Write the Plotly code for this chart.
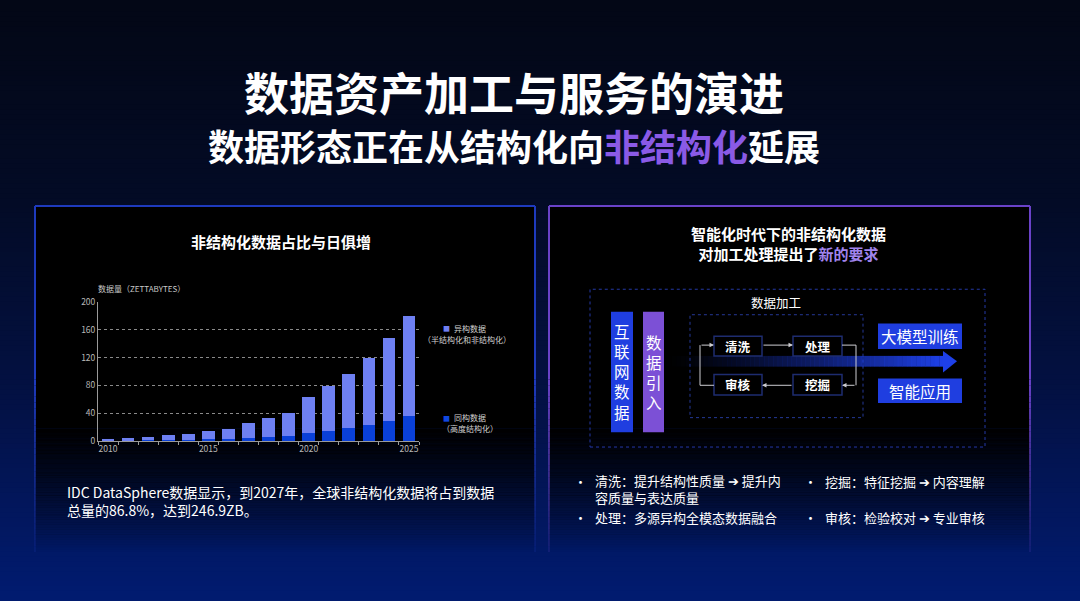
import plotly.graph_objects as go

W, H = 1080, 601

# ---------------- data ----------------
years = list(range(2010, 2026))
structured = [0.5, 0.8, 1.2, 1.6, 2, 2.5, 3.5, 4.5, 6, 7.5, 12, 15, 18.5, 23, 29, 36]
unstructured = [1.5, 3.2, 4.8, 7.4, 9, 12, 14.5, 21.5, 27.5, 32.5, 51.5, 64, 78.5, 97, 119, 144]
y_ticks = [0, 40, 80, 120, 160, 200]
x_ticks = [2010, 2015, 2020, 2025]

FONT = "Noto Sans CJK SC, Noto Sans, sans-serif"


def px(x):
    return x / W


def py(y):
    return 1 - y / H


def rgb(c, a=None):
    if a is None:
        return f"rgb({c[0]:.0f},{c[1]:.0f},{c[2]:.0f})"
    return f"rgba({c[0]:.0f},{c[1]:.0f},{c[2]:.0f},{a:.3f})"


def lerp_stops(stops, y):
    if y <= stops[0][0]:
        return stops[0][1]
    for (y0, c0), (y1, c1) in zip(stops, stops[1:]):
        if y0 <= y <= y1:
            t = (y - y0) / (y1 - y0)
            return tuple(c0[i] + (c1[i] - c0[i]) * t for i in range(3))
    return stops[-1][1]


shapes = []


def rect(x0, y0, x1, y1, fill=None, line=None, lw=0, dash=None, layer="below"):
    d = dict(type="rect", xref="paper", yref="paper",
             x0=px(x0), x1=px(x1), y0=py(y1), y1=py(y0), layer=layer,
             line=dict(width=lw, color=line or "rgba(0,0,0,0)"))
    if dash:
        d["line"]["dash"] = dash
    if fill:
        d["fillcolor"] = fill
    shapes.append(d)


def seg(x0, y0, x1, y1, color, lw=1, layer="below"):
    shapes.append(dict(type="line", xref="paper", yref="paper",
                       x0=px(x0), x1=px(x1), y0=py(y0), y1=py(y1),
                       line=dict(color=color, width=lw), layer=layer))


# ---------------- background gradient ----------------
bg_stops = [(0, (3, 7, 22)), (200, (3, 11, 38)), (400, (3, 17, 68)), (601, (1, 27, 112))]
n = 120
for i in range(n):
    y0 = H * i / n
    y1 = H * (i + 1) / n
    c = lerp_stops(bg_stops, (y0 + y1) / 2)
    top = y0 - 30 if i == 0 else y0 - 0.3
    bot = y1 + 30 if i == n - 1 else y1 + 0.6
    rect(-20, top, W + 20, bot, fill=rgb(c))

# ---------------- panels ----------------
panels = [(35, 535, (30, 58, 190)), (549, 1030, (106, 66, 200))]
P_TOP, P_SOLID, P_BOT = 203, 430, 556
for (x0, x1, bc) in panels:
    rect(x0, P_TOP, x1, P_SOLID, fill="rgb(0,0,0)")
    steps = 50
    for i in range(steps):
        ya = P_SOLID + (P_BOT - P_SOLID) * i / steps
        yb = P_SOLID + (P_BOT - P_SOLID) * (i + 1) / steps
        a = 1 - (i + 0.5) / steps
        rect(x0, ya, x1, yb + 0.3, fill=f"rgba(0,0,0,{a:.3f})")
    # borders
    seg(x0, P_TOP, x1, P_TOP, rgb(bc), 2)
    seg(x0, P_TOP, x0, 380, rgb(bc), 2)
    seg(x1, P_TOP, x1, 380, rgb(bc), 2)
    bsteps = 30
    for i in range(bsteps):
        ya = 380 + (P_BOT - 380) * i / bsteps
        yb = 380 + (P_BOT - 380) * (i + 1) / bsteps
        a = 1 - 0.85 * (i + 0.5) / bsteps
        seg(x0, ya, x0, yb, rgb(bc, a), 2)
        seg(x1, ya, x1, yb, rgb(bc, a), 2)

# ---------------- right diagram ----------------
BLUE = "rgb(31,62,224)"
PURPLE = "rgb(124,80,214)"
# outer dashed frame
rect(590, 288, 985, 449, line="rgb(36,56,165)", lw=1, dash="dot")
# inner dotted frame
rect(690, 314, 863, 419, line="rgb(36,56,150)", lw=1, dash="dot")
# big gradient arrow
gsteps = 60
gx0, gx1 = 667, 944
for i in range(gsteps):
    xa = gx0 + (gx1 - gx0) * i / gsteps
    xb = gx0 + (gx1 - gx0) * (i + 1) / gsteps
    a = ((i + 0.5) / gsteps) ** 1.3
    rect(xa, 356, xb + 0.3, 367, fill=rgb((30, 64, 232), a))
shapes.append(dict(type="path", xref="paper", yref="paper",
                   path=f"M {px(943)},{py(351)} L {px(957)},{py(361.5)} L {px(943)},{py(373)} Z",
                   fillcolor="rgb(30,64,232)", line=dict(width=0), layer="below"))
# vertical source boxes
rect(611, 311, 633, 434, fill=BLUE)
rect(643, 311, 664, 434, fill=PURPLE)
# target boxes
rect(878, 323, 962, 349, fill=BLUE)
rect(878, 379, 962, 404, fill=BLUE)
# small process boxes
for (bx0, by0, bx1, by1) in [(714, 336, 762, 356), (793, 336, 842, 356),
                              (714, 375, 762, 396), (793, 375, 842, 396)]:
    rect(bx0, by0, bx1, by1, fill="rgb(0,0,0)", line="rgb(30,44,112)", lw=1.5)
# connector lines
LC = "rgb(205,205,210)"
seg(842, 345, 856, 345, LC, 1)
seg(856, 345, 856, 386, LC, 1)
seg(714, 386, 700, 386, LC, 1)
seg(700, 386, 700, 345, LC, 1)

# ---------------- annotations ----------------
annotations = []


def ann(x, y, text, size, color="white", xanchor="center", yanchor="middle", align="center"):
    annotations.append(dict(x=px(x), y=py(y), xref="paper", yref="paper", text=text,
                            showarrow=False, xanchor=xanchor, yanchor=yanchor, align=align,
                            font=dict(size=size, color=color, family=FONT)))


def arrow(hx, hy, tx, ty):
    annotations.append(dict(x=px(hx), y=py(hy), xref="paper", yref="paper", text="",
                            showarrow=True, ax=tx - hx, ay=ty - hy, axref="pixel", ayref="pixel",
                            arrowhead=2, arrowsize=0.9, arrowwidth=1, arrowcolor=LC,
                            standoff=0, startstandoff=0))


arrow(793, 345, 762, 345)
arrow(842, 386, 856, 386)
arrow(762, 386, 793, 386)
arrow(714, 345, 700, 345)

# titles
ann(514, 86, "<b>数据资产加工与服务的演进</b>", 45)
ann(514, 141, "<b>数据形态正在从结构化向<span style='color:#8a5ae6'>非结构化</span>延展</b>", 36)

# left panel
ann(281, 239, "<b>非结构化数据占比与日俱增</b>", 15)
ann(96, 287, "数据量（ZETTABYTES）", 8, "#c8c8c8", xanchor="left")
ann(446, 328, "■", 7, "#7080f2")
ann(452, 328, "异构数据", 8, "#d0d0d0", xanchor="left")
ann(467, 339, "（半结构化和非结构化）", 8, "#d0d0d0")
ann(446, 419, "■", 7, "#1048e0")
ann(452, 419, "同构数据", 8, "#d0d0d0", xanchor="left")
ann(470, 430, "（高度结构化）", 8, "#d0d0d0")
ann(65, 504.5, "IDC DataSphere数据显示，到2027年，全球非结构化数据将占到数据<br>总量的86.8%，达到246.9ZB。",
    14, xanchor="left", align="left")

# right panel
ann(788, 241, "<b>智能化时代下的非结构化数据<br>对加工处理提出了<span style='color:#a184ee'>新的要求</span></b>", 15)
ann(776, 302, "数据加工", 12.5)
ann(622, 372, "互<br>联<br>网<br>数<br>据", 15.5)
ann(653.5, 372, "数<br>据<br>引<br>入", 15.5)
ann(738, 346, "<b>清洗</b>", 12.5)
ann(817.5, 346, "<b>处理</b>", 12.5)
ann(738, 385.5, "<b>审核</b>", 12.5)
ann(817.5, 385.5, "<b>挖掘</b>", 12.5)
ann(920, 336, "大模型训练", 15.5)
ann(920, 391.5, "智能应用", 15.5)

# bullets
ann(580, 484, "•", 13)
ann(593, 492, "清洗：提升结构性质量 ➔ 提升内<br>容质量与表达质量", 13, xanchor="left", align="left")
ann(580, 520.5, "•", 13)
ann(593, 520.5, "处理：多源异构全模态数据融合", 13, xanchor="left")
ann(810, 484, "•", 13)
ann(823, 484, "挖掘：特征挖掘 ➔ 内容理解", 13, xanchor="left")
ann(810, 520.5, "•", 13)
ann(823, 520.5, "审核：检验校对 ➔ 专业审核", 13, xanchor="left")

# ---------------- chart ----------------
fig = go.Figure()
fig.add_trace(go.Bar(x=years, y=structured, name="同构数据（高度结构化）",
                     marker=dict(color="#0a40d8", line=dict(width=0))))
fig.add_trace(go.Bar(x=years, y=unstructured, name="异构数据（半结构化和非结构化）",
                     marker=dict(color="#6e80f2", line=dict(width=0))))

fig.update_layout(
    width=W, height=H,
    margin=dict(l=0, r=0, t=0, b=0),
    paper_bgcolor="rgb(3,12,45)",
    plot_bgcolor="rgba(0,0,0,0)",
    barmode="stack",
    bargap=0.37,
    showlegend=False,
    font=dict(family=FONT, color="white"),
    shapes=shapes,
    annotations=annotations,
    xaxis=dict(domain=[px(98), px(419)], range=[2009.5, 2025.5],
               tickmode="array", tickvals=x_ticks, ticktext=[str(v) for v in x_ticks],
               tickfont=dict(size=8.5, color="#b8b8b8"),
               showgrid=False, zeroline=False, showline=True,
               linecolor="#9a9a9a", linewidth=1, ticks="",
               minor=dict(ticks="outside", tickmode="array",
                          tickvals=[2009.5 + i for i in range(17)],
                          ticklen=3, tickcolor="#9a9a9a", showgrid=False)),
    yaxis=dict(domain=[py(443), py(301)], range=[0, 200],
               tickmode="array", tickvals=y_ticks,
               tickfont=dict(size=8.5, color="#b8b8b8"),
               showgrid=True, gridcolor="#8a8a8a", griddash="dot", gridwidth=1,
               zeroline=False, showline=True, linecolor="#9a9a9a", linewidth=1,
               ticks=""),
)

fig.write_html("out.html", config={"displayModeBar": False},
               post_script="document.body.style.margin='0';document.body.style.overflow='hidden';")
